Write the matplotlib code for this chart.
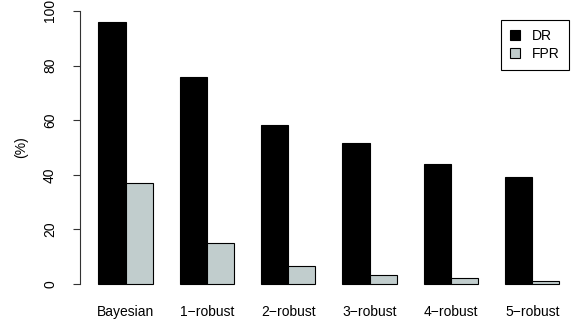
import matplotlib
matplotlib.use("Agg")
import matplotlib.pyplot as plt
from matplotlib.patches import Patch
import numpy as np

methods = ["Bayesian", "1\u2212robust", "2\u2212robust", "3\u2212robust", "4\u2212robust", "5\u2212robust"]
dr = [96.0, 75.8, 58.4, 51.8, 44.0, 39.2]
fpr = [37.1, 14.9, 6.8, 3.2, 2.1, 1.2]
yticks = [0, 20, 40, 60, 80, 100]

DR_COLOR = "black"
FPR_COLOR = "#c1cdcd"

plt.rcParams["font.family"] = ["Liberation Sans", "DejaVu Sans"]
plt.rcParams["font.size"] = 10

W, H = 573, 324
fig = plt.figure(figsize=(W / 100, H / 100), dpi=100)
# plot region in pixels (R-style barplot margins)
left, right, bottom, top = 80, 577.8, 295, 0
ax = fig.add_axes([left / W, (H - bottom) / H, (right - left) / W, (bottom - top) / H])

# beside=TRUE layout: one bar gap between groups
idx = np.arange(len(methods))
x_dr = 1.5 + 3 * idx
x_fpr = 2.5 + 3 * idx
ax.bar(x_dr, dr, width=1.0, color=DR_COLOR, edgecolor="black", linewidth=0.8, label="DR")
ax.bar(x_fpr, fpr, width=1.0, color=FPR_COLOR, edgecolor="black", linewidth=0.8, label="FPR")

ax.set_xlim(0.32, 18.68)
ax.set_ylim(-4, 104)

ax.set_xticks(x_dr + 0.5)
ax.set_xticklabels(methods)
ax.tick_params(axis="x", length=0, pad=7)

ax.set_yticks(yticks)
ax.set_yticklabels([str(v) for v in yticks], rotation=90, va="center")
ax.tick_params(axis="y", length=5, width=0.8, pad=11.5, color="#333333")

for s in ["top", "right", "bottom"]:
    ax.spines[s].set_visible(False)
ax.spines["left"].set_bounds(0, 100)
ax.spines["left"].set_linewidth(0.8)
ax.spines["left"].set_color("#333333")

fig.text(21 / W, 1 - 147 / H, "(%)", rotation=90, ha="center", va="center")

handles = [Patch(facecolor=DR_COLOR, edgecolor="black", linewidth=0.8),
           Patch(facecolor=FPR_COLOR, edgecolor="black", linewidth=0.8)]
leg = fig.legend(handles, ["DR", "FPR"], loc="upper right",
                 bbox_to_anchor=(569 / W, 1 - 20 / H), bbox_transform=fig.transFigure,
                 fancybox=False, framealpha=1, edgecolor="black",
                 handlelength=0.75, handleheight=0.75, handletextpad=0.85,
                 labelspacing=0.3, borderpad=0.65, borderaxespad=0)
leg.get_frame().set_linewidth(0.8)

fig.savefig("out.png", dpi=100)
